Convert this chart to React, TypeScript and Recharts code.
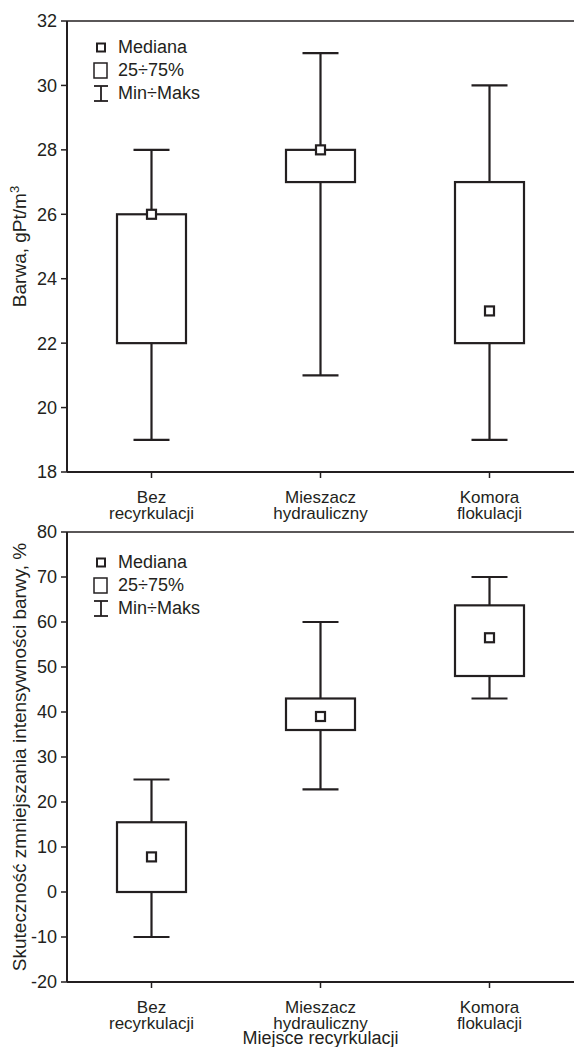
import { Bar, ComposedChart, Legend, ReferenceLine, XAxis, YAxis } from "recharts";

const FONT = "'Liberation Sans', Arial, sans-serif";
const INK = "#231f20";

// categories, two lines each
const CAT_LINE1 = ["Bez", "Mieszacz", "Komora"];
const CAT_LINE2 = ["recyrkulacji", "hydrauliczny", "flokulacji"];

// top plot: Barwa, gPt/m3
const BARWA_MIN = [19, 21, 19];
const BARWA_Q1 = [22, 27, 22];
const BARWA_MED = [26, 28, 23];
const BARWA_Q3 = [26, 28, 27];
const BARWA_MAX = [28, 31, 30];
const BARWA_TICKS = [18, 20, 22, 24, 26, 28, 30, 32];

// bottom plot: Skutecznosc, %
const SKUT_MIN = [-10, 22.8, 43];
const SKUT_Q1 = [0, 36, 48];
const SKUT_MED = [7.8, 39, 56.5];
const SKUT_Q3 = [15.5, 43, 63.7];
const SKUT_MAX = [25, 60, 70];
const SKUT_TICKS = [-20, -10, 0, 10, 20, 30, 40, 50, 60, 70, 80];

const build = (mn: number[], q1: number[], med: number[], q3: number[], mx: number[]) =>
  CAT_LINE1.map((name, i) => ({
    name,
    range: [mn[i], mx[i]],
    min: mn[i],
    q1: q1[i],
    med: med[i],
    q3: q3[i],
    max: mx[i],
  }));

const barwaData = build(BARWA_MIN, BARWA_Q1, BARWA_MED, BARWA_Q3, BARWA_MAX);
const skutData = build(SKUT_MIN, SKUT_Q1, SKUT_MED, SKUT_Q3, SKUT_MAX);

const tickStyle = { fill: INK, fontSize: 18, fontFamily: FONT };
const catStyle = { fill: INK, fontSize: 17, fontFamily: FONT };

/** Box + whiskers drawn from the range bar [min, max] geometry. */
function BoxShape(props: any) {
  const { x, y, width, height, payload } = props;
  const top = Math.min(y, y + height);
  const h = Math.abs(height);
  const k = h / (payload.max - payload.min);
  const py = (v: number) => top + (payload.max - v) * k;
  const cx = x + width / 2;
  const bw = 69;
  const cap = 18;
  return (
    <g stroke={INK} strokeWidth={2.2} fill="none">
      <line x1={cx} x2={cx} y1={py(payload.max)} y2={py(payload.q3)} />
      <line x1={cx} x2={cx} y1={py(payload.q1)} y2={py(payload.min)} />
      <line x1={cx - cap} x2={cx + cap} y1={py(payload.max)} y2={py(payload.max)} />
      <line x1={cx - cap} x2={cx + cap} y1={py(payload.min)} y2={py(payload.min)} />
      <rect x={cx - bw / 2} y={py(payload.q3)} width={bw} height={py(payload.q1) - py(payload.q3)} fill="#fff" />
      <rect x={cx - 4.5} y={py(payload.med) - 4.5} width={9} height={9} fill="#fff" />
    </g>
  );
}

function CatTick({ x, y, payload }: any) {
  const i = payload.index ?? CAT_LINE1.indexOf(payload.value);
  return (
    <g>
      <text x={x} y={y + 23} textAnchor="middle" style={catStyle}>{CAT_LINE1[i]}</text>
      <text x={x} y={y + 38.5} textAnchor="middle" style={catStyle}>{CAT_LINE2[i]}</text>
    </g>
  );
}

function BoxLegend() {
  const row = { display: "flex", alignItems: "center", height: 23 } as const;
  return (
    <div style={{ fontFamily: FONT, fontSize: 18, color: INK }}>
      <div style={row}>
        <svg width={18} height={23}>
          <rect x={5} y={7.5} width={8} height={8} fill="#fff" stroke={INK} strokeWidth={2} />
        </svg>
        <span style={{ marginLeft: 8 }}>Mediana</span>
      </div>
      <div style={row}>
        <svg width={18} height={23}>
          <rect x={2} y={4} width={13} height={15} fill="#fff" stroke={INK} strokeWidth={1.5} />
        </svg>
        <span style={{ marginLeft: 8 }}>25÷75%</span>
      </div>
      <div style={row}>
        <svg width={18} height={23}>
          <g stroke={INK} strokeWidth={1.8}>
            <line x1={2} x2={16} y1={4} y2={4} />
            <line x1={9} x2={9} y1={4} y2={19} />
            <line x1={2} x2={16} y1={19} y2={19} />
          </g>
        </svg>
        <span style={{ marginLeft: 8 }}>Min÷Maks</span>
      </div>
    </div>
  );
}

function YTitle({ viewBox, text, sup }: any) {
  const cy = viewBox.y + viewBox.height / 2;
  return (
    <text
      x={26}
      y={cy}
      transform={`rotate(-90 26 ${cy})`}
      textAnchor="middle"
      style={{ fill: INK, fontSize: 19, fontFamily: FONT }}
    >
      {text}
      {sup ? (
        <tspan dy={-7} fontSize={13}>
          {sup}
        </tspan>
      ) : null}
    </text>
  );
}

function XTitle({ viewBox }: any) {
  return (
    <text
      x={viewBox.x + viewBox.width / 2}
      y={viewBox.y + 62}
      textAnchor="middle"
      style={{ fill: INK, fontSize: 18, fontFamily: FONT }}
    >
      Miejsce recyrkulacji
    </text>
  );
}

function BoxChart({
  data,
  height,
  xHeight,
  domain,
  ticks,
  title,
  sup,
  legendTop,
  xTitle,
}: any) {
  return (
    <ComposedChart width={574} height={height} data={data} margin={{ top: 21, right: 0, bottom: 0, left: 0 }}>
      <XAxis
        dataKey="name"
        height={xHeight}
        tick={<CatTick />}
        tickSize={6}
        interval={0}
        axisLine={{ stroke: INK, strokeWidth: 2 }}
        tickLine={{ stroke: INK, strokeWidth: 1.5 }}
        label={xTitle ? { content: (p: any) => <XTitle {...p} /> } : undefined}
      />
      <YAxis
        width={67}
        domain={domain}
        ticks={ticks}
        type="number"
        allowDataOverflow
        tick={tickStyle}
        tickSize={6}
        tickMargin={4}
        interval={0}
        axisLine={{ stroke: INK, strokeWidth: 2 }}
        tickLine={{ stroke: INK, strokeWidth: 1.5 }}
        label={{ content: (p: any) => <YTitle {...p} text={title} sup={sup} /> }}
      />
      <ReferenceLine y={domain[1]} stroke={INK} strokeWidth={1.5} />
      <Legend
        layout="horizontal"
        verticalAlign="middle"
        align="center"
        content={<BoxLegend />}
        wrapperStyle={{ left: 92, top: legendTop, width: "auto" }}
      />
      <Bar dataKey="range" barSize={69} shape={<BoxShape />} isAnimationActive={false} />
    </ComposedChart>
  );
}

export default function App() {
  return (
    <div style={{ position: "absolute", left: 0, top: 0, width: 574, height: 1047, background: "#fff", overflow: "hidden" }}>
      <div style={{ position: "absolute", left: 0, top: 0 }}>
        <BoxChart
          data={barwaData}
          height={530}
          xHeight={58}
          domain={[18, 32]}
          ticks={BARWA_TICKS}
          title="Barwa, gPt/m"
          sup="3"
          legendTop={36}
        />
      </div>
      <div style={{ position: "absolute", left: 0, top: 511 }}>
        <BoxChart
          data={skutData}
          height={536}
          xHeight={65}
          domain={[-20, 80]}
          ticks={SKUT_TICKS}
          title="Skuteczność zmniejszania intensywności barwy, %"
          legendTop={40}
          xTitle
        />
      </div>
    </div>
  );
}
